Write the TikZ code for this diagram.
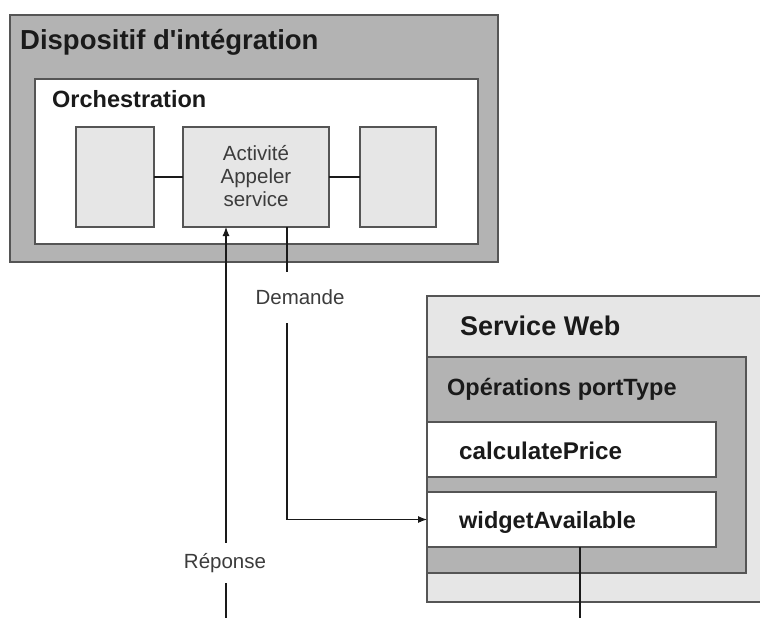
\documentclass[tikz,border=0pt]{standalone}
\usepackage{fontspec}
\setmainfont{Liberation Sans}
\usetikzlibrary{arrows.meta}
\definecolor{dgray}{HTML}{B3B3B3}
\definecolor{lgray}{HTML}{E6E6E6}
\definecolor{edge}{HTML}{555555}
\definecolor{txt}{HTML}{1A1A1A}
\tikzset{
  box/.style={draw=edge, line width=1.3pt, inner sep=0pt, outer sep=0pt, anchor=north west},
  title/.style={anchor=base west, inner sep=0pt, text=txt, font=\fontsize{27.5}{32}\selectfont\bfseries},
  btext/.style={anchor=base west, inner sep=0pt, text=txt, font=\fontsize{23.5}{28}\selectfont\bfseries},
  rtext/.style={inner sep=0pt, text=txt!85, font=\fontsize{20.5}{25}\selectfont},
  conn/.style={draw=txt, line width=1.1pt},
  arr/.style={conn, -{Latex[length=9pt,width=7pt]}}
}
\begin{document}
\begin{tikzpicture}[x=1pt,y=-1pt]
\clip (0,0) rectangle (760,618);
\fill[white] (0,0) rectangle (760,618);
% Dispositif
\node[box, fill=dgray, minimum width=488, minimum height=247] (disp) at (10,15) {};
\node[title] (disptxt) at (20,50) {Dispositif d\textquotesingle intégration};
\node[box, fill=white, minimum width=443, minimum height=165] (orch) at (35,79) {};
\node[btext] (orchtxt) at (52,107) {Orchestration};
\node[box, fill=lgray, minimum width=78, minimum height=100] (b1) at (76,127) {};
\node[box, fill=lgray, minimum width=146, minimum height=100] (b2) at (183,127) {};
\node[box, fill=lgray, minimum width=76, minimum height=100] (b3) at (360,127) {};
\node[rtext, align=center, anchor=center] (b2txt) at (256,176) {Activité\\[-2pt]Appeler\\[-2pt]service};
\draw[conn] (b1.east) -- (b2.west);
\draw[conn] (b2.east) -- (b3.west);
% Service Web
\node[box, fill=lgray, minimum width=360, minimum height=306] (sw) at (427,296) {};
\node[title, font=\fontsize{27}{32}\selectfont\bfseries] (swtxt) at (460,335) {Service Web};
\node[box, fill=dgray, minimum width=319, minimum height=216] (pt) at (427,357) {};
\node[btext] (pttxt) at (447,395) {Opérations portType};
\node[box, fill=white, minimum width=289, minimum height=55] (calc) at (427,422) {};
\node[btext, font=\fontsize{24.2}{28}\selectfont\bfseries] (calctxt) at (459,459) {calculatePrice};
\node[box, fill=white, minimum width=289, minimum height=55] (wid) at (427,492) {};
\node[btext] (widtxt) at (459,528) {widgetAvailable};
% labels
\node[rtext, minimum height=51] (dem) at (300,297.5) {Demande};
\node[rtext, minimum height=40] (rep) at (225,563) {Réponse};
\coordinate (repbot) at (226,618);
\coordinate (widbot) at (580,618);
\coordinate (demcorner) at (287,519.5);
% connectors
\draw[conn] (b2.south -| 287,0) -- (dem.north -| 287,0);
\draw[arr] (dem.south -| 287,0) -- (demcorner) -- (wid.west);
\draw[conn] (repbot) -- (rep.south -| repbot);
\draw[arr] (rep.north -| repbot) -- (b2.south -| repbot);
\draw[conn] (wid.south -| widbot) -- (widbot);
\end{tikzpicture}
\end{document}
